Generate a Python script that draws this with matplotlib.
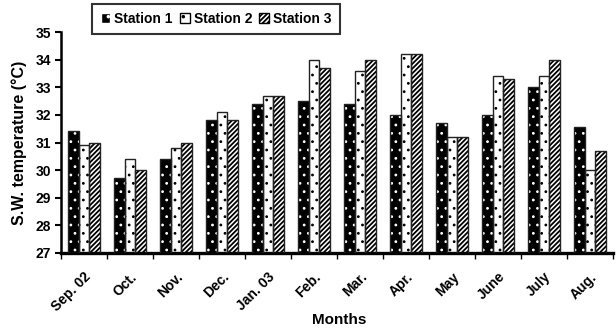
import matplotlib
matplotlib.use("Agg")
import matplotlib.pyplot as plt
import matplotlib.transforms as mtransforms
import numpy as np
from matplotlib.patches import Patch

plt.rcParams['font.family'] = ['Liberation Sans', 'DejaVu Sans']
plt.rcParams['font.weight'] = 'bold'

months = ["Sep. 02", "Oct.", "Nov.", "Dec.", "Jan. 03", "Feb.", "Mar.", "Apr.",
          "May", "June", "July", "Aug."]
station1 = [31.4, 29.7, 30.4, 31.8, 32.4, 32.5, 32.4, 32.0, 31.7, 32.0, 33.0, 31.55]
station2 = [30.9, 30.4, 30.8, 32.1, 32.7, 34.0, 33.6, 34.2, 31.2, 33.4, 33.4, 30.0]
station3 = [31.0, 30.0, 31.0, 31.8, 32.7, 33.7, 34.0, 34.2, 31.2, 33.3, 34.0, 30.7]
series_names = ["Station 1", "Station 2", "Station 3"]
yticks = [27, 28, 29, 30, 31, 32, 33, 34, 35]

fig = plt.figure(figsize=(6.16, 3.31), dpi=100)
ax = fig.add_axes([61/616, 1-253/331, (613-61)/616, (253-32)/331])

x = np.arange(len(months))
w = 0.233
base = 27
styles = [
    dict(face="black", hatch="..", hcol="white", hlw=0.8),
    dict(face="white", hatch="..", hcol="black", hlw=0.8),
    dict(face="white", hatch="///////", hcol="black", hlw=1.3),
]
for k, (vals, st) in enumerate(zip([station1, station2, station3], styles)):
    plt.rcParams['hatch.linewidth'] = st["hlw"]
    pos = x + (k - 1) * w
    heights = np.array(vals) - base
    ax.bar(pos, heights, w, bottom=base, color=st["face"], edgecolor=st["hcol"],
           hatch=st["hatch"], linewidth=0, zorder=2)
    ax.bar(pos, heights, w, bottom=base, fill=False, edgecolor="#222222",
           linewidth=1.0, zorder=3)

ax.set_xlim(-0.5, len(months) - 0.5)
ax.set_ylim(27, 35)
ax.set_yticks(yticks)
ax.set_yticklabels([str(t) for t in yticks], fontsize=10, fontweight='bold')
ax.set_xticks(x)
ax.set_xticklabels(months, rotation=45, ha='right', rotation_mode='anchor',
                   fontsize=10, fontweight='bold')
shift = mtransforms.ScaledTranslation(-6/100, 0, fig.dpi_scale_trans)
for lab in ax.get_xticklabels():
    lab.set_transform(lab.get_transform() + shift)
ax.set_xticks(np.arange(-0.5, len(months) + 0.5, 1), minor=True)
ax.tick_params(axis='x', which='major', length=0, pad=12)
ax.tick_params(axis='x', which='minor', length=4, width=1, direction='out')
ax.tick_params(axis='y', length=4, width=1.5, direction='out', pad=3)
for s in ['top', 'right']:
    ax.spines[s].set_visible(False)
ax.spines['left'].set_linewidth(1.8)
ax.spines['bottom'].set_linewidth(2.4)

ax.set_ylabel("S.W. temperature (°C)", fontsize=11.5, fontweight='bold', labelpad=6)
fig.text(339/616, 1-320/331, "Months", ha='center', va='center', fontsize=11,
         fontweight='bold')

handles = []
for name, st in zip(series_names, styles):
    handles.append(Patch(facecolor=st["face"], edgecolor=st["hcol"], hatch=st["hatch"],
                         label=name))
leg = fig.legend(handles=handles, loc='center', bbox_to_anchor=(216/616, 1-19/331),
                 ncol=3, fontsize=10, frameon=True, fancybox=False, handlelength=0.7,
                 handleheight=0.7, handletextpad=0.3, columnspacing=0.5,
                 borderpad=0.6, edgecolor='black')
leg.get_frame().set_linewidth(1.5)
for t in leg.get_texts():
    t.set_fontweight('bold')

fig.savefig("out.png", dpi=100)
